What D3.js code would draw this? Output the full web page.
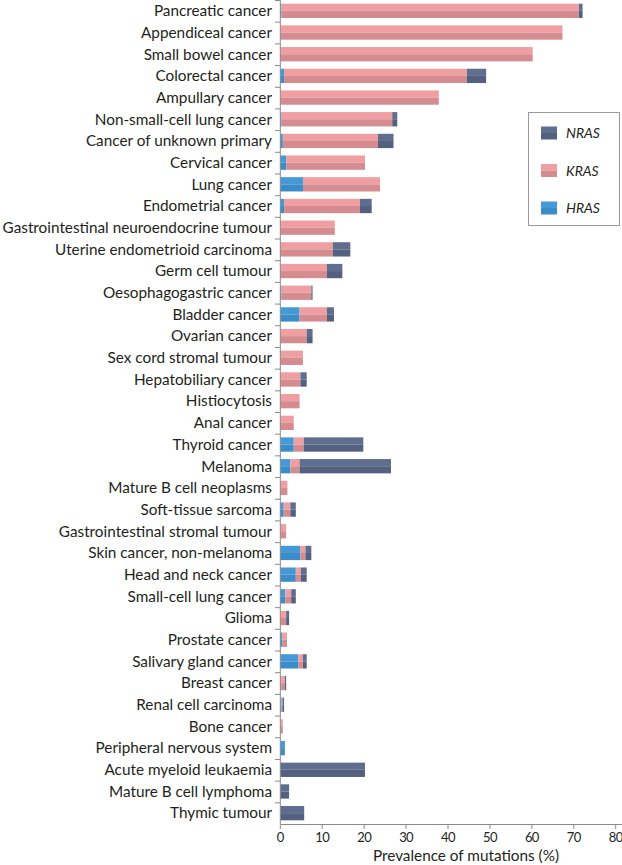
<!DOCTYPE html>
<html><head><meta charset="utf-8">
<script src="https://cdn.jsdelivr.net/npm/d3@7"></script>
<style>body{margin:0;background:#fff}svg{display:block}</style>
</head><body>
<script>
const categories = ["Pancreatic cancer","Appendiceal cancer","Small bowel cancer","Colorectal cancer","Ampullary cancer","Non-small-cell lung cancer","Cancer of unknown primary","Cervical cancer","Lung cancer","Endometrial cancer","Gastrointestinal neuroendocrine tumour","Uterine endometrioid carcinoma","Germ cell tumour","Oesophagogastric cancer","Bladder cancer","Ovarian cancer","Sex cord stromal tumour","Hepatobiliary cancer","Histiocytosis","Anal cancer","Thyroid cancer","Melanoma","Mature B cell neoplasms","Soft-tissue sarcoma","Gastrointestinal stromal tumour","Skin cancer, non-melanoma","Head and neck cancer","Small-cell lung cancer","Glioma","Prostate cancer","Salivary gland cancer","Breast cancer","Renal cell carcinoma","Bone cancer","Peripheral nervous system","Acute myeloid leukaemia","Mature B cell lymphoma","Thymic tumour"];
const hras = [0.3,0,0,0.9,0,0.3,0.6,1.4,5.4,0.9,0,0,0,0.3,4.6,0,0,0,0,0,3.2,2.4,0,0.8,0,4.8,3.7,1.2,0,0.5,4.3,0.2,0.3,0,1.1,0,0,0];
const kras = [70.9,67.3,60.2,43.6,37.8,26.4,22.7,18.8,18.4,18.1,13.0,12.5,11.1,7.1,6.5,6.3,5.4,4.8,4.6,3.2,2.4,2.2,1.7,1.6,1.4,1.2,1.2,1.4,1.4,1.1,1.1,0.9,0.2,0.6,0,0,0,0];
const nras = [0.9,0,0,4.6,0,1.2,3.7,0,0,2.8,0,4.2,3.7,0.3,1.7,1.4,0,1.5,0,0,14.2,21.8,0,1.3,0,1.4,1.4,1.1,0.7,0,0.9,0.3,0.4,0,0,20.2,2.1,5.7];
const xTicks = [0,10,20,30,40,50,60,70,80];
const seriesNames = ["HRAS","KRAS","NRAS"];
const legendOrder = ["NRAS","KRAS","HRAS"];
const colorsTop = {HRAS:"#4499d6", KRAS:"#ef9ea2", NRAS:"#5f6d8e"};
const colorsBot = {HRAS:"#3b8cc8", KRAS:"#d58c91", NRAS:"#53607f"};

const W = 622, H = 865;
const svg = d3.select("body").append("svg").attr("width", W).attr("height", H)
  .style("font-family", "Lato, 'Open Sans', sans-serif");

const x = d3.scaleLinear().domain([0, 80]).range([280.3, 615.7]);
const y = d3.scaleBand().domain(categories).range([0, 824]).paddingInner(0.34).paddingOuter(0.17);

const rows = categories.map((c, i) => ({cat: c, HRAS: hras[i], KRAS: kras[i], NRAS: nras[i]}));
const stacked = d3.stack().keys(seriesNames)(rows);

const g = svg.append("g");
stacked.forEach(layer => {
  const key = layer.key;
  const segs = layer.filter(d => d[1] - d[0] > 0);
  g.selectAll(null).data(segs).enter().append("rect")
    .attr("x", d => x(d[0])).attr("y", d => y(d.data.cat))
    .attr("width", d => x(d[1]) - x(d[0])).attr("height", y.bandwidth() / 2)
    .attr("fill", colorsTop[key]);
  g.selectAll(null).data(segs).enter().append("rect")
    .attr("x", d => x(d[0])).attr("y", d => y(d.data.cat) + y.bandwidth() / 2)
    .attr("width", d => x(d[1]) - x(d[0])).attr("height", y.bandwidth() / 2)
    .attr("fill", colorsBot[key]);
});

// left axis
const axisColor = "#8a8a8a";
svg.append("line").attr("x1", 280.3).attr("x2", 280.3).attr("y1", 0).attr("y2", 824)
  .attr("stroke", axisColor).attr("stroke-width", 1);
const step = y.step();
const boundaries = d3.range(categories.length).map(i => i * step);
svg.selectAll(null).data(boundaries).enter().append("line")
  .attr("x1", 275).attr("x2", 280.3).attr("y1", d => d + 0.5).attr("y2", d => d + 0.5)
  .attr("stroke", axisColor).attr("stroke-width", 1);

svg.selectAll(null).data(categories).enter().append("text")
  .attr("x", 272).attr("y", d => y(d) + y.bandwidth() / 2 + 5.3)
  .attr("text-anchor", "end").attr("font-size", 15.3).attr("fill", "#231f20")
  .text(d => d);

// bottom axis
svg.append("line").attr("x1", 280.3).attr("x2", 622).attr("y1", 824.5).attr("y2", 824.5)
  .attr("stroke", axisColor).attr("stroke-width", 1);
svg.selectAll(null).data(xTicks).enter().append("line")
  .attr("x1", d => x(d)).attr("x2", d => x(d)).attr("y1", 824.5).attr("y2", 829)
  .attr("stroke", axisColor).attr("stroke-width", 1);
svg.selectAll(null).data(xTicks).enter().append("text")
  .attr("x", d => x(d)).attr("y", 841.5).attr("text-anchor", "middle")
  .attr("font-size", 13).attr("letter-spacing", -0.6).attr("fill", "#231f20").text(d => d);
svg.append("text").attr("x", 466).attr("y", 860.5).attr("text-anchor", "middle")
  .attr("font-size", 15.3).attr("fill", "#231f20").text("Prevalence of mutations (%)");

// legend
const lg = svg.append("g");
lg.append("rect").attr("x", 528.5).attr("y", 112.5).attr("width", 91).attr("height", 113)
  .attr("fill", "#fff").attr("stroke", "#9a9a9a").attr("stroke-width", 1);
const ly = d3.scalePoint().domain(legendOrder).range([133, 208]);
legendOrder.forEach(k => {
  lg.append("rect").attr("x", 541).attr("y", ly(k) - 6.5).attr("width", 16).attr("height", 6.5).attr("fill", colorsTop[k]);
  lg.append("rect").attr("x", 541).attr("y", ly(k)).attr("width", 16).attr("height", 6.5).attr("fill", colorsBot[k]);
  lg.append("text").attr("x", 566).attr("y", ly(k) + 5).attr("font-size", 14).attr("font-style", "italic")
    .attr("fill", "#231f20").text(k);
});
</script>
</body></html>
